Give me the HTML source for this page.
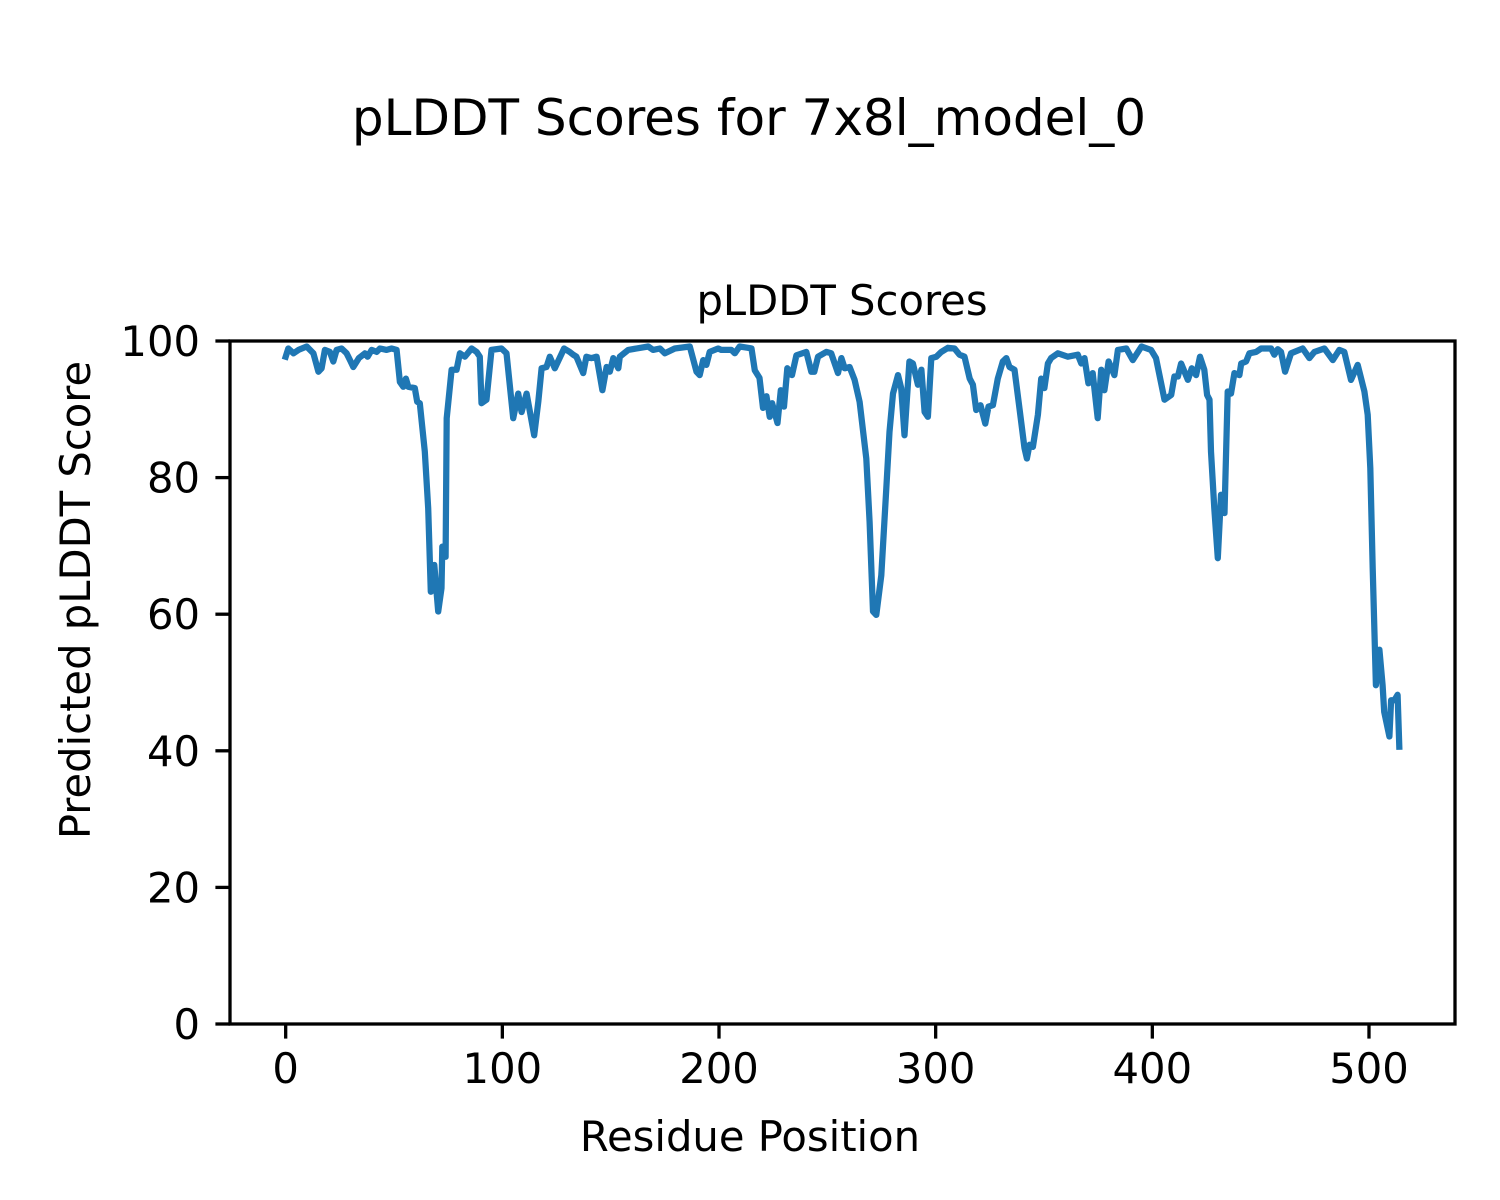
<!DOCTYPE html>
<html><head><meta charset="utf-8"><style>
html,body{margin:0;padding:0;background:#fff;}
svg{display:block;font-family:"DejaVu Sans","Liberation Sans",sans-serif;}
</style></head><body>
<svg id="chart" width="1500" height="1200" viewBox="0 0 1500 1200" xmlns="http://www.w3.org/2000/svg">
<rect width="1500" height="1200" fill="#fff"/>
<text x="749" y="135" font-size="50" text-anchor="middle">pLDDT Scores for 7x8l_model_0</text>
<text x="842" y="315" font-size="41.7" text-anchor="middle">pLDDT Scores</text>
<text x="750" y="1151" font-size="41.7" text-anchor="middle">Residue Position</text>
<text x="0" y="0" font-size="41.7" text-anchor="middle" transform="translate(90,600) rotate(-90)">Predicted pLDDT Score</text>
<g id="ticks"></g>
<polyline id="series" fill="none" stroke="#1f77b4" stroke-width="6.25" stroke-linejoin="round" stroke-linecap="square"/>
<rect x="230" y="341" width="1225" height="683" fill="none" stroke="#000" stroke-width="3.3"/>
</svg>
<script>
const residues = [0,1.2,3.6,5.9,9.7,12.8,15.1,16.6,18.1,20.4,22,23.5,25.8,28.1,29.7,31.2,33.8,36.6,37.8,39.7,42,43.5,46.6,48.9,51.2,52.7,54.3,55.5,56.6,59.6,60.7,61.9,64.2,65.8,67,68.6,70.4,71.9,72.3,73.8,74.3,76.6,78.9,80.4,82.7,85.8,88.1,89.6,90.4,92.7,95,99.6,101.9,105,107.3,108.9,111.2,114.7,116.6,118.1,120.4,121.9,124.2,128.5,131.1,132.7,134.2,137.3,138.8,141.1,143.5,146.2,148.1,149.6,151.2,153.5,154.2,158.1,167.3,169.6,172.7,175,179.6,186.5,189.6,191.1,192.7,194.2,195.7,199.6,201,205.7,207.3,209.5,213.4,215,216.5,218.7,220.3,221.9,223.4,224.5,227,228.5,230,231.5,233.7,235.7,240.3,242.6,244,245.7,249.5,251.8,254.9,256.5,258,260.3,262.6,264.9,268,269.5,271.1,272.6,274.9,277.2,278.7,280.3,282.6,284.1,285.6,287.9,289.5,291.8,293.4,294.9,296.4,298,300.3,302.6,305.7,308.7,311,313.3,315.7,317.2,318.7,320.7,322.9,324.4,326.4,328.7,331,332.6,334.1,336.4,338.7,341,342.1,343.3,344.9,347.2,348.7,350.2,351.8,353.3,356.4,361,365.6,367.2,368.7,370.5,372.5,374.8,376.4,377.9,379.8,382.5,384.1,388,391,395,399.4,401.7,405.6,408.7,410.2,411.8,413.3,416.4,418.2,420.2,422,424,425.3,426.4,427.1,428.6,430.2,431.7,433.3,434.8,436.3,437.9,440.2,441,443.3,444.8,447.9,450.2,454.8,456.3,457.9,459.4,461.3,464,469.4,472.5,474.8,479.4,483.3,486.3,488.6,491.7,494.8,497.9,499.4,500.6,501.7,503.2,504.8,506.3,507,509.4,510.2,511.7,513.2,514];
const scores = [97.7,98.9,98.2,98.7,99.2,98.2,95.5,96,98.7,98.4,97,98.7,98.9,98.2,97.2,96.2,97.5,98.2,97.7,98.7,98.4,98.9,98.7,98.9,98.7,94,93.3,94.5,93.3,93.1,91.1,90.9,83.8,75.5,63.3,67.2,60.4,63.8,69.9,68.4,88.7,95.8,95.8,98.2,97.7,98.9,98.4,97.7,90.9,91.4,98.7,98.9,98.2,88.7,92.3,89.6,92.3,86.2,91.1,96,96.2,97.7,96,98.9,98.4,98,97.7,95.3,97.7,97.5,97.7,92.8,96.2,95.5,97.5,96,97.7,98.7,99.2,98.7,98.9,98.2,98.9,99.2,95.5,95,97.2,96.5,98.4,98.9,98.7,98.7,98.2,99.2,99,98.9,95.7,94.6,90.2,91.9,88.9,90.9,88,92.8,90.4,96,95,97.9,98.4,95.5,95.5,97.7,98.4,98.2,95.3,97.5,96,96.2,94.3,91.1,82.8,73.5,60.4,59.9,65.7,78.4,86.7,92.3,95,93.1,86.2,97,96.7,93.6,95.8,89.6,88.9,97.5,97.7,98.4,99,98.9,98,97.7,94.5,93.6,89.9,90.6,87.9,90.4,90.6,94.5,97,97.5,96.2,95.8,90.1,84.3,82.8,84.8,84.5,89.2,94.5,93.1,96.7,97.5,98.2,97.7,98,96.7,97.5,93.8,95.3,88.7,95.8,92.8,97,95,98.7,98.9,97.2,99.2,98.7,97.5,91.4,92.1,94.8,94.8,96.7,94.3,96,95,97.7,95.8,92.1,91.4,83.8,75.5,68.2,77.5,74.8,92.6,92.3,95.3,95,96.7,97,98.2,98.4,98.9,98.9,98,98.8,98.4,95.5,98.2,98.9,97.5,98.4,98.9,97.2,98.7,98.4,94.3,96.5,92.6,89.2,81.4,66.7,49.6,54.8,49.6,45.7,42.1,47.4,47.4,48.2,40.6];
const xTicks = [0,100,200,300,400,500];
const yTicks = [0,20,40,60,80,100];

const X0=230, X1=1455, Y0=1024, Y1=341;
const xMin=-25.7, xMax=539.7, yMin=0, yMax=100;
function sx(v){return X0+(v-xMin)/(xMax-xMin)*(X1-X0);}
function sy(v){return Y0-(v-yMin)/(yMax-yMin)*(Y0-Y1);}

const NS="http://www.w3.org/2000/svg";
const g=document.getElementById('ticks');
xTicks.forEach(t=>{
  const l=document.createElementNS(NS,'line');
  
  
  l.setAttribute('x1',sx(t));l.setAttribute('x2',sx(t));
  l.setAttribute('y1',Y0);l.setAttribute('y2',Y0+14.6);
  l.setAttribute('stroke','#000');l.setAttribute('stroke-width','3.3');
  g.appendChild(l);
  const tx=document.createElementNS(NS,'text');
  
  
  tx.setAttribute('x',sx(t));tx.setAttribute('y',Y0+59);
  tx.setAttribute('font-size','41.7');tx.setAttribute('text-anchor','middle');
  tx.textContent=t;
  g.appendChild(tx);
});
yTicks.forEach(t=>{
  const l=document.createElementNS(NS,'line');
  
  
  l.setAttribute('x1',X0-14.6);l.setAttribute('x2',X0);
  l.setAttribute('y1',sy(t));l.setAttribute('y2',sy(t));
  l.setAttribute('stroke','#000');l.setAttribute('stroke-width','3.3');
  g.appendChild(l);
  const tx=document.createElementNS(NS,'text');
  
  
  tx.setAttribute('x',X0-30);tx.setAttribute('y',sy(t)+15);
  tx.setAttribute('font-size','41.7');tx.setAttribute('text-anchor','end');
  tx.textContent=t;
  g.appendChild(tx);
});
document.getElementById('series').setAttribute('points',
  residues.map((r,i)=>sx(r).toFixed(1)+','+sy(scores[i]).toFixed(1)).join(' '));
</script>
</body></html>
